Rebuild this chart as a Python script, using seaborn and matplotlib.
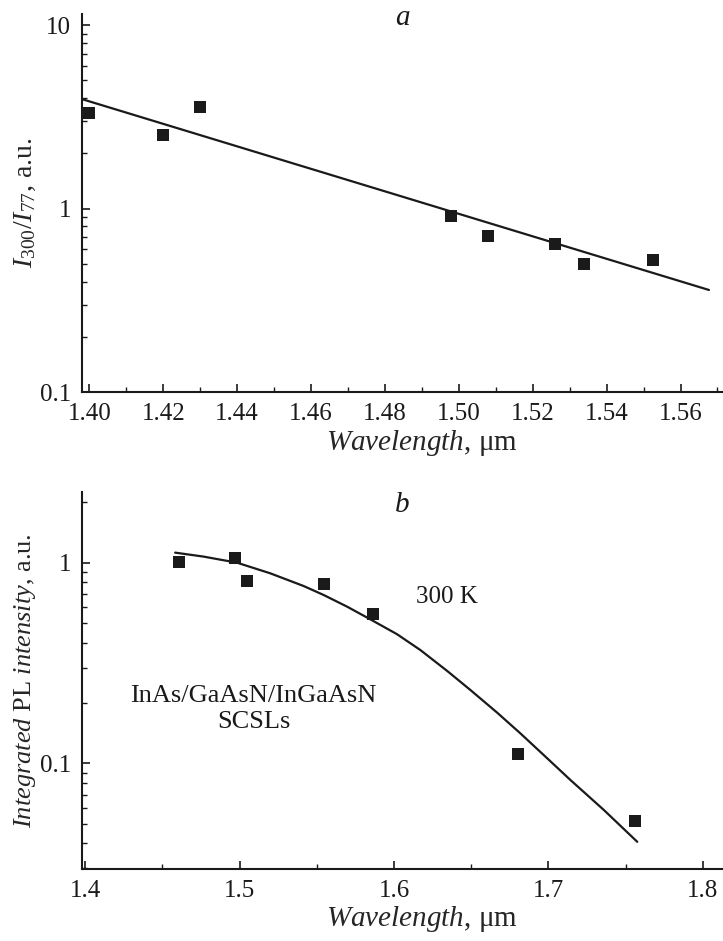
import numpy as np
import pandas as pd
import matplotlib
matplotlib.use("Agg")
import matplotlib.pyplot as plt
import matplotlib.ticker as mticker
import seaborn as sns

# panel a: I300/I77 ratio vs wavelength
wl_a = [1.400, 1.420, 1.430, 1.498, 1.508, 1.526, 1.534, 1.5525]
ratio_a = [3.32, 2.51, 3.56, 0.908, 0.712, 0.638, 0.496, 0.526]
fit_wl_a = [1.3982, 1.5677]
fit_ratio_a = [3.94, 0.360]

# panel b: integrated PL intensity vs wavelength
wl_b = [1.461, 1.497, 1.505, 1.555, 1.5864, 1.680, 1.7558]
pl_b = [1.01, 1.06, 0.813, 0.783, 0.555, 0.111, 0.0516]
fit_wl_b = [1.4583, 1.4767, 1.4983, 1.5199, 1.5415, 1.5545, 1.5696,
            1.5847, 1.6020, 1.6171, 1.6344, 1.6495, 1.6668, 1.6819,
            1.6981, 1.7143, 1.7359, 1.7575]
fit_pl_b = [1.122, 1.072, 1.0, 0.885, 0.765, 0.690, 0.604,
            0.522, 0.440, 0.367, 0.289, 0.232, 0.179, 0.141,
            0.108, 0.0826, 0.0586, 0.0407]

sns.set_style("ticks")
plt.rcParams['font.family'] = ['Liberation Serif', 'DejaVu Serif']
plt.rcParams['mathtext.fontset'] = 'custom'
plt.rcParams['mathtext.rm'] = 'Liberation Serif'
plt.rcParams['mathtext.it'] = 'Liberation Serif:italic'
plt.rcParams['font.size'] = 18

ink = '#1a1a1a'

fig = plt.figure(figsize=(7.23, 9.41), dpi=100)
ax1 = fig.add_axes([0.1134, 0.5834, 0.8866, 0.4017])
ax2 = fig.add_axes([0.1134, 0.0762, 0.8866, 0.4010])


def style_axis(ax):
    ax.set_yscale('log')
    for s in ['top', 'right']:
        ax.spines[s].set_visible(False)
    for s in ['left', 'bottom']:
        ax.spines[s].set_linewidth(1.5)
        ax.spines[s].set_color(ink)
    ax.tick_params(which='major', direction='in', length=6, width=1.2,
                   labelsize=18, colors=ink, pad=8)
    ax.tick_params(which='minor', direction='in', length=3.5, width=1.0,
                   colors=ink)
    ax.yaxis.set_major_formatter(mticker.FuncFormatter(lambda v, p: f'{v:g}'))
    ax.yaxis.set_minor_formatter(mticker.NullFormatter())


df_a = pd.DataFrame({'wl': wl_a, 'r': ratio_a})
fit_a = pd.DataFrame({'wl': fit_wl_a, 'r': fit_ratio_a})
sns.lineplot(data=fit_a, x='wl', y='r', ax=ax1, color=ink, lw=1.6)
sns.scatterplot(data=df_a, x='wl', y='r', ax=ax1, marker='s', s=70,
                color=ink, edgecolor=ink, linewidth=0, zorder=3)
style_axis(ax1)
ax1.set_xlim(1.398, 1.5715)
ax1.set_ylim(0.1, 11.5)
ax1.set_xticks(np.arange(1.40, 1.57, 0.02))
ax1.xaxis.set_major_formatter(mticker.FormatStrFormatter('%.2f'))
ax1.xaxis.set_minor_locator(mticker.MultipleLocator(0.01))
ax1.set_xlabel(r'$Wavelength$, μm', fontsize=21)
ax1.set_ylabel(r'$I_{300}/I_{77}$, a.u.', fontsize=20)
ax1.xaxis.set_label_coords(0.53, -0.095)
ax1.yaxis.set_label_coords(-0.069, 0.5)
ax1.text(0.50, 0.99, 'a', transform=ax1.transAxes, fontsize=21,
         style='italic', ha='center', va='center', color=ink)

df_b = pd.DataFrame({'wl': wl_b, 'pl': pl_b})
fit_b = pd.DataFrame({'wl': fit_wl_b, 'pl': fit_pl_b})
sns.lineplot(data=fit_b, x='wl', y='pl', ax=ax2, color=ink, lw=1.6)
sns.scatterplot(data=df_b, x='wl', y='pl', ax=ax2, marker='s', s=70,
                color=ink, edgecolor=ink, linewidth=0, zorder=3)
style_axis(ax2)
ax2.set_xlim(1.398, 1.813)
ax2.set_ylim(0.0297, 2.25)
ax2.set_xticks([1.4, 1.5, 1.6, 1.7, 1.8])
ax2.xaxis.set_major_formatter(mticker.FormatStrFormatter('%.1f'))
ax2.xaxis.set_minor_locator(mticker.MultipleLocator(0.05))
ax2.set_xlabel(r'$Wavelength$, μm', fontsize=21)
ax2.set_ylabel(r'$Integrated$ PL $intensity$, a.u.', fontsize=19)
ax2.xaxis.set_label_coords(0.53, -0.092)
ax2.yaxis.set_label_coords(-0.069, 0.5)
ax2.text(0.50, 0.966, 'b', transform=ax2.transAxes, fontsize=21,
         style='italic', ha='center', va='center', color=ink)
ax2.text(0.569, 0.722, '300 K', transform=ax2.transAxes, fontsize=18,
         ha='center', va='center', color=ink)
ax2.text(0.268, 0.425, 'InAs/GaAsN/InGaAsN\nSCSLs', transform=ax2.transAxes,
         fontsize=19, ha='center', va='center', color=ink, linespacing=1.2)

fig.savefig('out.png', dpi=100)
